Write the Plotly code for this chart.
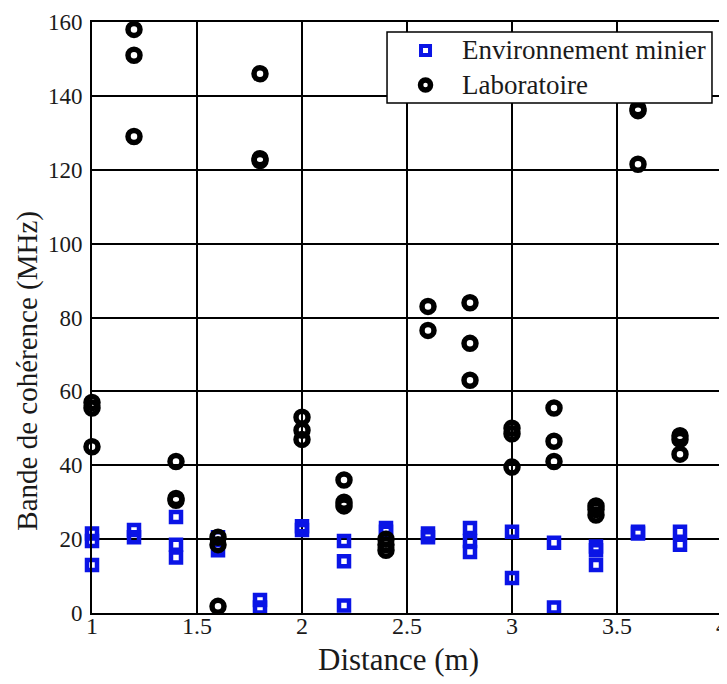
import plotly.graph_objects as go

# Environnement minier (blue squares)
mine_x = [1, 1, 1, 1.2, 1.2, 1.4, 1.4, 1.4, 1.6, 1.6, 1.8, 1.8, 2, 2,
          2.2, 2.2, 2.2, 2.4, 2.4, 2.6, 2.6, 2.8, 2.8, 2.8, 3, 3, 3.2, 3.2,
          3.4, 3.4, 3.4, 3.6, 3.6, 3.8, 3.8]
mine_y = [21.5, 19.5, 13, 22.5, 20.5, 26, 18.5, 15, 20.5, 17, 3.5, 1.5, 23.5, 22.5,
          19.5, 14, 2, 23, 22, 21.5, 20.5, 23, 19.5, 16.5, 22, 9.5, 19, 1.5,
          18, 17, 13, 22, 21.5, 22, 18.5]

# Laboratoire (black circles)
lab_x = [1, 1, 1, 1.2, 1.2, 1.2, 1.4, 1.4, 1.4, 1.6, 1.6, 1.6, 1.8, 1.8, 1.8,
         2, 2, 2, 2.2, 2.2, 2.2, 2.4, 2.4, 2.4, 2.6, 2.6, 2.8, 2.8, 2.8,
         3, 3, 3, 3.2, 3.2, 3.2, 3.4, 3.4, 3.4, 3.6, 3.6, 3.6, 3.8, 3.8, 3.8]
lab_y = [57, 55.5, 45, 158, 151, 129, 41, 31, 30.5, 20.5, 18.5, 1.8, 146, 123, 122.5,
         53, 49.5, 47, 36, 30, 29, 20, 18.5, 17, 83, 76.5, 84, 73, 63,
         50, 48.5, 39.5, 55.5, 46.5, 41, 29, 28, 26.5, 136.5, 136, 121.5, 48, 47, 43]

x_ticks = [1, 1.5, 2, 2.5, 3, 3.5, 4]
x_tick_labels = ["1", "1.5", "2", "2.5", "3", "3.5", "4"]
y_ticks = [0, 20, 40, 60, 80, 100, 120, 140, 160]

series_names = ["Environnement minier", "Laboratoire"]

serif = "Liberation Serif"
txt = "#1a1a1a"
blue = "#0a14e6"

fig = go.Figure()
fig.add_trace(go.Scatter(
    x=mine_x, y=mine_y, mode="markers", name=series_names[0],
    marker=dict(symbol="square-open", size=10, color=blue,
                line=dict(width=4.5, color=blue)),
    cliponaxis=False, showlegend=False,
))
fig.add_trace(go.Scatter(
    x=lab_x, y=lab_y, mode="markers", name=series_names[1],
    marker=dict(symbol="circle-open", size=12, color="black",
                line=dict(width=5.5, color="black")),
    cliponaxis=False, showlegend=False,
))

# legend drawn as a boxed key inside the plot (top right)
lx0, lx1, ly0, ly1 = 0.4683, 0.9841, 0.8629, 0.9831
key_x = 0.5294
row_y = [0.9518, 0.8934]
text_x = 0.5841

shapes = [
    dict(type="rect", xref="paper", yref="paper", x0=lx0, x1=lx1, y0=ly0, y1=ly1,
         fillcolor="white", line=dict(color="black", width=1.5), layer="above"),
    dict(type="rect", xref="paper", yref="paper", xsizemode="pixel", ysizemode="pixel",
         xanchor=key_x, yanchor=row_y[0], x0=-4.5, x1=4.5, y0=-4.5, y1=4.5,
         fillcolor="white", line=dict(color=blue, width=4), layer="above"),
    dict(type="circle", xref="paper", yref="paper", xsizemode="pixel", ysizemode="pixel",
         xanchor=key_x, yanchor=row_y[1], x0=-5, x1=5, y0=-5, y1=5,
         fillcolor="white", line=dict(color="black", width=5.5), layer="above"),
]

annotations = [
    dict(text="Bande de cohérence (MHz)", textangle=-90,
         xref="paper", yref="paper", x=-0.1016, y=0.41,
         xanchor="center", yanchor="middle", showarrow=False,
         font=dict(family=serif, size=29, color=txt)),
    dict(text="Distance (m)",
         xref="paper", yref="paper", x=0.487, y=-0.078,
         xanchor="center", yanchor="middle", showarrow=False,
         font=dict(family=serif, size=31, color=txt)),
]
for name, yy in zip(series_names, row_y):
    annotations.append(dict(
        text=name, xref="paper", yref="paper", x=text_x, y=yy,
        xanchor="left", yanchor="middle", showarrow=False,
        font=dict(family=serif, size=27, color=txt)))

fig.update_layout(
    width=727, height=684,
    paper_bgcolor="white", plot_bgcolor="white",
    margin=dict(l=84, r=13, t=14, b=79, autoexpand=False),
    font=dict(family=serif, size=22, color=txt),
    showlegend=False,
    xaxis=dict(
        range=[1, 4], tickvals=x_ticks, ticktext=x_tick_labels,
        showgrid=True, gridcolor="black", gridwidth=1.5,
        showline=True, linecolor="black", linewidth=2, mirror=True,
        ticks="", zeroline=False, automargin=False, ticklabelstandoff=-10,
        tickfont=dict(family=serif, size=24, color=txt),
    ),
    yaxis=dict(
        range=[0, 160], tickvals=y_ticks,
        showgrid=True, gridcolor="black", gridwidth=1.5,
        showline=True, linecolor="black", linewidth=2, mirror=True,
        ticks="", zeroline=False, automargin=False, ticklabelstandoff=3,
        tickfont=dict(family=serif, size=23, color=txt),
    ),
    shapes=shapes,
    annotations=annotations,
)

fig.write_html("out.html")
